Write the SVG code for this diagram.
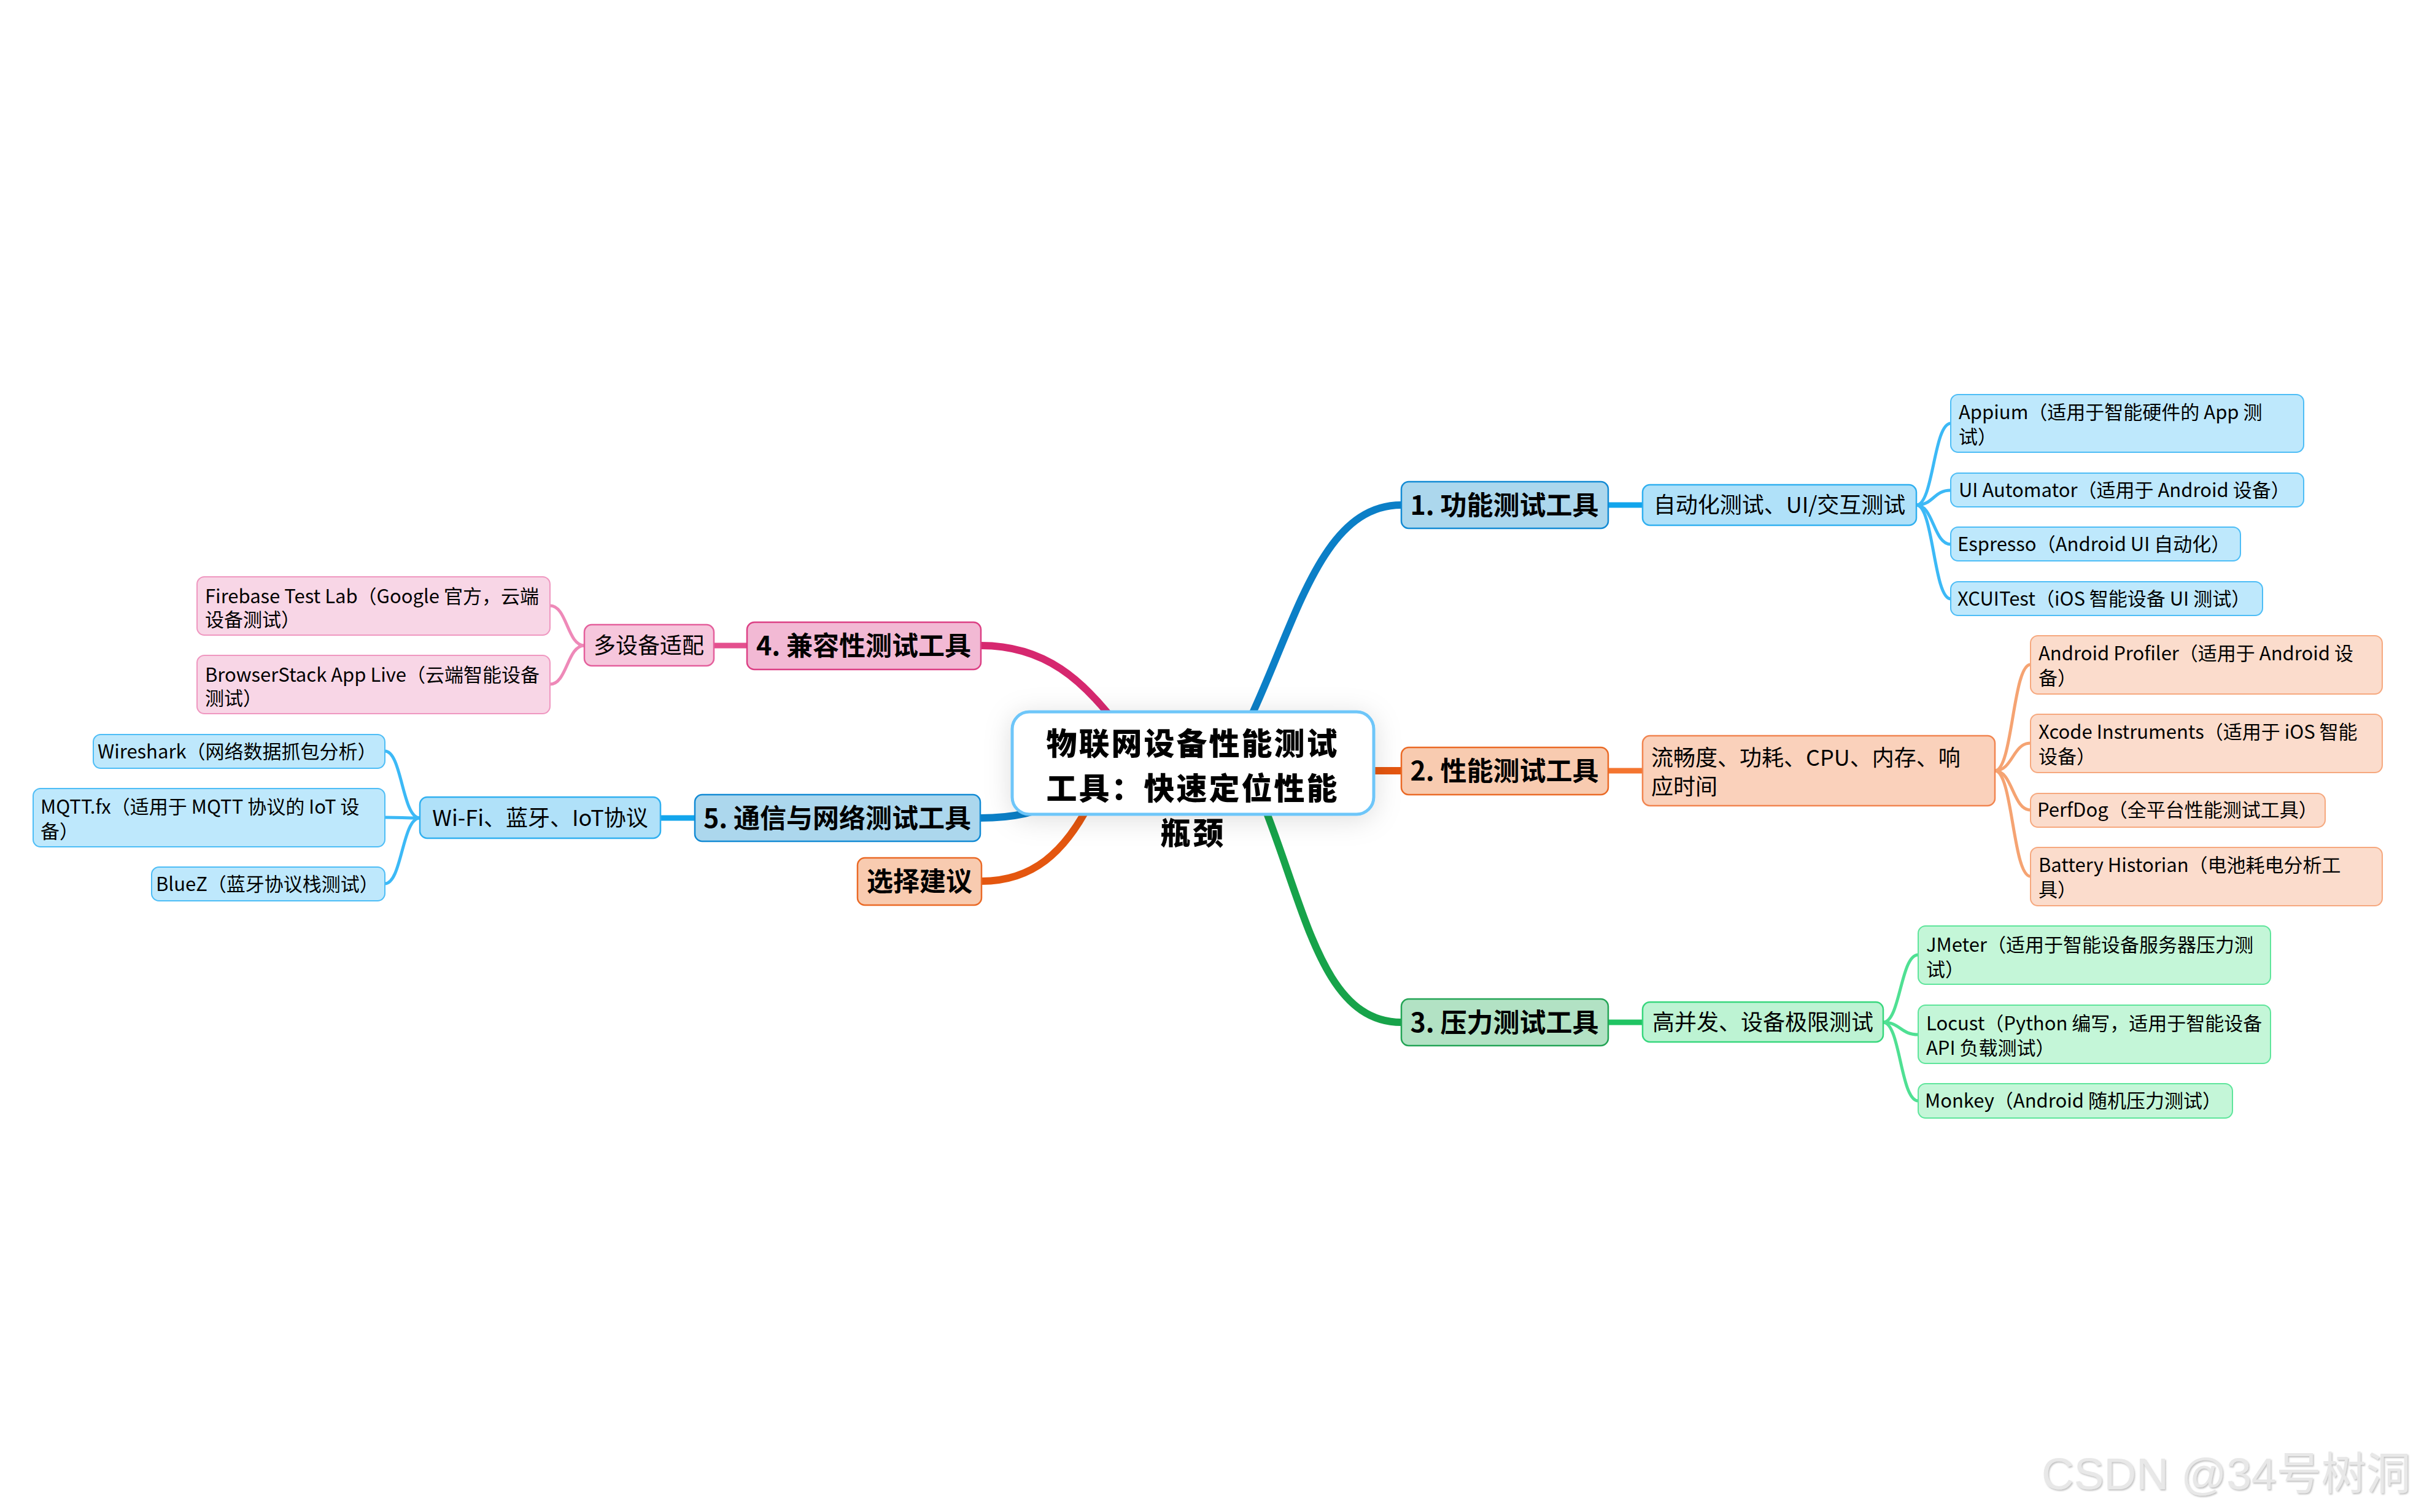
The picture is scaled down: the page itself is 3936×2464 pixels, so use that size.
<svg xmlns="http://www.w3.org/2000/svg" width="3936" height="2464" viewBox="0 0 3936 2464">
<defs>
<filter id="shadow" x="-30%" y="-60%" width="160%" height="220%">
<feDropShadow dx="0" dy="6" stdDeviation="22" flood-color="#000" flood-opacity="0.13"/>
</filter>
<filter id="wm" x="-5%" y="-20%" width="110%" height="140%">
<feDropShadow dx="1.5" dy="2" stdDeviation="1" flood-color="#999" flood-opacity="0.6"/>
</filter>
<style>
text{font-family:"Noto Sans CJK SC","Noto Sans",sans-serif;fill:#000}
.root{font-size:50px;font-weight:900;text-anchor:middle;letter-spacing:3px}
.l1{font-size:43px;font-weight:700;text-anchor:middle}
.l2{font-size:36px}
.c{text-anchor:middle}
.lf{font-size:31px}
.conn{fill:none;stroke-linecap:round}
.r{stroke-width:12}
.s{stroke-width:9}
.t{stroke-width:5}
.n1{fill:#acd7ed;stroke:#128ad4;stroke-width:2.5}
.b2{fill:#b0e1f9;stroke:#30b0f0;stroke-width:2.5}
.b3{fill:#bee8fc;stroke:#4dbdf6;stroke-width:2}
.o1{fill:#f8cbb0;stroke:#ea6a26;stroke-width:2.5}
.o2{fill:#fad1bb;stroke:#f18550;stroke-width:2.5}
.o3{fill:#fbdccc;stroke:#f6a87e;stroke-width:2}
.g1{fill:#b2e2c4;stroke:#23a455;stroke-width:2.5}
.g2{fill:#bdf3d3;stroke:#37d77d;stroke-width:2.5}
.g3{fill:#c4f6d8;stroke:#5ee59b;stroke-width:2}
.p1{fill:#f2b9d4;stroke:#dc3f84;stroke-width:2.5}
.p2{fill:#f6c6dc;stroke:#e45f9c;stroke-width:2.5}
.p3{fill:#f8d6e6;stroke:#ef97c0;stroke-width:2}
</style>
</defs>
<rect width="3936" height="2464" fill="#fff"/>

<g id="connectors">
<!-- root branches -->
<path class="conn r" stroke="#0b7fc7" d="M2030,1185 C2110,1020 2150,823 2283,823"/>
<path class="conn r" stroke="#e4560f" d="M2200,1256 L2283,1256"/>
<path class="conn r" stroke="#17a34a" d="M2050,1290 C2125,1470 2150,1666 2283,1666"/>
<path class="conn r" stroke="#d6286f" d="M1598,1052 C1700,1052 1765,1105 1830,1195"/>
<path class="conn r" stroke="#0b7fc7" d="M1597,1333 C1650,1333 1690,1325 1740,1300"/>
<path class="conn r" stroke="#e4560f" d="M1599,1436 C1680,1436 1735,1392 1780,1300"/>
<!-- level 1 to level 2 -->
<path class="conn s" stroke="#12a5ec" d="M2620,823 L2676,823"/>
<path class="conn s" stroke="#f47530" d="M2620,1256 L2676,1256"/>
<path class="conn s" stroke="#20c463" d="M2620,1666 L2676,1666"/>
<path class="conn s" stroke="#e4508e" d="M1163,1052 L1217,1052"/>
<path class="conn s" stroke="#12a5ec" d="M1076,1333 L1132,1333"/>
<!-- leaves: functional -->
<path class="conn t" stroke="#3cb9f6" d="M3122,823 C3150,823 3150,690 3178,690"/>
<path class="conn t" stroke="#3cb9f6" d="M3122,823 C3150,823 3150,799 3178,799"/>
<path class="conn t" stroke="#3cb9f6" d="M3122,823 C3150,823 3150,887 3178,887"/>
<path class="conn t" stroke="#3cb9f6" d="M3122,823 C3150,823 3150,976 3178,976"/>
<!-- leaves: performance -->
<path class="conn t" stroke="#f5a372" d="M3250,1256 C3279,1256 3279,1083 3308,1083"/>
<path class="conn t" stroke="#f5a372" d="M3250,1256 C3279,1256 3279,1211 3308,1211"/>
<path class="conn t" stroke="#f5a372" d="M3250,1256 C3279,1256 3279,1320 3308,1320"/>
<path class="conn t" stroke="#f5a372" d="M3250,1256 C3279,1256 3279,1428 3308,1428"/>
<!-- leaves: stress -->
<path class="conn t" stroke="#4fe093" d="M3068,1666 C3096,1666 3096,1556 3125,1556"/>
<path class="conn t" stroke="#4fe093" d="M3068,1666 C3096,1666 3096,1686 3125,1686"/>
<path class="conn t" stroke="#4fe093" d="M3068,1666 C3096,1666 3096,1794 3125,1794"/>
<!-- leaves: compatibility -->
<path class="conn t" stroke="#ee89b8" d="M952,1052 C924,1052 924,987 896,987"/>
<path class="conn t" stroke="#ee89b8" d="M952,1052 C924,1052 924,1115 896,1115"/>
<!-- leaves: network -->
<path class="conn t" stroke="#3cb9f6" d="M684,1333 C655,1333 655,1224 627,1224"/>
<path class="conn t" stroke="#3cb9f6" d="M684,1333 C655,1333 655,1332 627,1332"/>
<path class="conn t" stroke="#3cb9f6" d="M684,1333 C655,1333 655,1440 627,1440"/>
</g>

<g id="root">
<rect x="1649" y="1160" width="589" height="167" rx="28" fill="#fff" stroke="#6ec6f9" stroke-width="5" filter="url(#shadow)"/>
<text class="root" x="1943" y="1230">物联网设备性能测试</text>
<text class="root" x="1943" y="1303">工具：快速定位性能</text>
<text class="root" x="1943" y="1376">瓶颈</text>
</g>

<g id="n1">
<rect class="n1" x="2283" y="785" width="337" height="76" rx="12"/>
<text class="l1" x="2451" y="839">1. 功能测试工具</text>
</g>
<g id="n1-sub">
<rect class="b2" x="2676" y="790" width="446" height="66" rx="12"/>
<text class="l2 c" x="2899" y="836">自动化测试、UI/交互测试</text>
</g>
<g id="n1-appium">
<rect class="b3" x="3178" y="643" width="575" height="94" rx="12"/>
<text class="lf" x="3191" y="683">Appium（适用于智能硬件的 App 测</text>
<text class="lf" x="3191" y="723">试）</text>
</g>
<g id="n1-uiautomator">
<rect class="b3" x="3178" y="771" width="575" height="55" rx="12"/>
<text class="lf" x="3191" y="810">UI Automator（适用于 Android 设备）</text>
</g>
<g id="n1-espresso">
<rect class="b3" x="3178" y="859" width="472" height="55" rx="12"/>
<text class="lf" x="3189" y="898">Espresso（Android UI 自动化）</text>
</g>
<g id="n1-xcuitest">
<rect class="b3" x="3178" y="948" width="508" height="55" rx="12"/>
<text class="lf" x="3189" y="987">XCUITest（iOS 智能设备 UI 测试）</text>
</g>

<g id="n2">
<rect class="o1" x="2283" y="1218" width="337" height="77" rx="12"/>
<text class="l1" x="2451" y="1272">2. 性能测试工具</text>
</g>
<g id="n2-sub">
<rect class="o2" x="2676" y="1199" width="574" height="114" rx="12"/>
<text class="l2" x="2690" y="1248">流畅度、功耗、CPU、内存、响</text>
<text class="l2" x="2690" y="1295">应时间</text>
</g>
<g id="n2-androidprofiler">
<rect class="o3" x="3308" y="1036" width="573" height="95" rx="12"/>
<text class="lf" x="3321" y="1076">Android Profiler（适用于 Android 设</text>
<text class="lf" x="3321" y="1116">备）</text>
</g>
<g id="n2-xcode">
<rect class="o3" x="3308" y="1164" width="573" height="95" rx="12"/>
<text class="lf" x="3321" y="1204">Xcode Instruments（适用于 iOS 智能</text>
<text class="lf" x="3321" y="1244">设备）</text>
</g>
<g id="n2-perfdog">
<rect class="o3" x="3308" y="1293" width="480" height="55" rx="12"/>
<text class="lf" x="3319" y="1331">PerfDog（全平台性能测试工具）</text>
</g>
<g id="n2-battery">
<rect class="o3" x="3308" y="1381" width="573" height="95" rx="12"/>
<text class="lf" x="3321" y="1421">Battery Historian（电池耗电分析工</text>
<text class="lf" x="3321" y="1461">具）</text>
</g>

<g id="n3">
<rect class="g1" x="2283" y="1628" width="337" height="76" rx="12"/>
<text class="l1" x="2451" y="1682">3. 压力测试工具</text>
</g>
<g id="n3-sub">
<rect class="g2" x="2676" y="1633" width="392" height="65" rx="12"/>
<text class="l2 c" x="2872" y="1679">高并发、设备极限测试</text>
</g>
<g id="n3-jmeter">
<rect class="g3" x="3125" y="1509" width="574" height="95" rx="12"/>
<text class="lf" x="3138" y="1551">JMeter（适用于智能设备服务器压力测</text>
<text class="lf" x="3138" y="1591">试）</text>
</g>
<g id="n3-locust">
<rect class="g3" x="3125" y="1638" width="574" height="95" rx="12"/>
<text class="lf" x="3138" y="1679">Locust（Python 编写，适用于智能设备</text>
<text class="lf" x="3138" y="1719">API 负载测试）</text>
</g>
<g id="n3-monkey">
<rect class="g3" x="3125" y="1766" width="512" height="56" rx="12"/>
<text class="lf" x="3136" y="1805">Monkey（Android 随机压力测试）</text>
</g>

<g id="n4">
<rect class="p1" x="1217" y="1014" width="381" height="77" rx="12"/>
<text class="l1" x="1407" y="1068">4. 兼容性测试工具</text>
</g>
<g id="n4-sub">
<rect class="p2" x="952" y="1018" width="211" height="67" rx="12"/>
<text class="l2 c" x="1057" y="1065">多设备适配</text>
</g>
<g id="n4-firebase">
<rect class="p3" x="321" y="940" width="575" height="95" rx="12"/>
<text class="lf" x="334" y="983">Firebase Test Lab（Google 官方，云端</text>
<text class="lf" x="334" y="1021">设备测试）</text>
</g>
<g id="n4-browserstack">
<rect class="p3" x="321" y="1068" width="575" height="95" rx="12"/>
<text class="lf" x="334" y="1111">BrowserStack App Live（云端智能设备</text>
<text class="lf" x="334" y="1149">测试）</text>
</g>

<g id="n5">
<rect class="n1" x="1132" y="1295" width="465" height="76" rx="12"/>
<text class="l1" x="1364" y="1349">5. 通信与网络测试工具</text>
</g>
<g id="n5-sub">
<rect class="b2" x="684" y="1299" width="392" height="67" rx="12"/>
<text class="l2 c" x="880" y="1346">Wi-Fi、蓝牙、IoT协议</text>
</g>
<g id="n5-wireshark">
<rect class="b3" x="152" y="1197" width="475" height="55" rx="12"/>
<text class="lf" x="159" y="1236">Wireshark（网络数据抓包分析）</text>
</g>
<g id="n5-mqtt">
<rect class="b3" x="54" y="1285" width="573" height="95" rx="12"/>
<text class="lf" x="66" y="1326">MQTT.fx（适用于 MQTT 协议的 IoT 设</text>
<text class="lf" x="66" y="1366">备）</text>
</g>
<g id="n5-bluez">
<rect class="b3" x="247" y="1413" width="380" height="55" rx="12"/>
<text class="lf" x="254" y="1452">BlueZ（蓝牙协议栈测试）</text>
</g>

<g id="n6">
<rect class="o1" x="1397" y="1398" width="202" height="77" rx="12"/>
<text class="l1" x="1498" y="1452">选择建议</text>
</g>

<text x="3326" y="2427" font-size="73" style="font-family:'Liberation Sans','Noto Sans CJK SC',sans-serif;fill:#e8e8e8" filter="url(#wm)">CSDN @34号树洞</text>
</svg>
